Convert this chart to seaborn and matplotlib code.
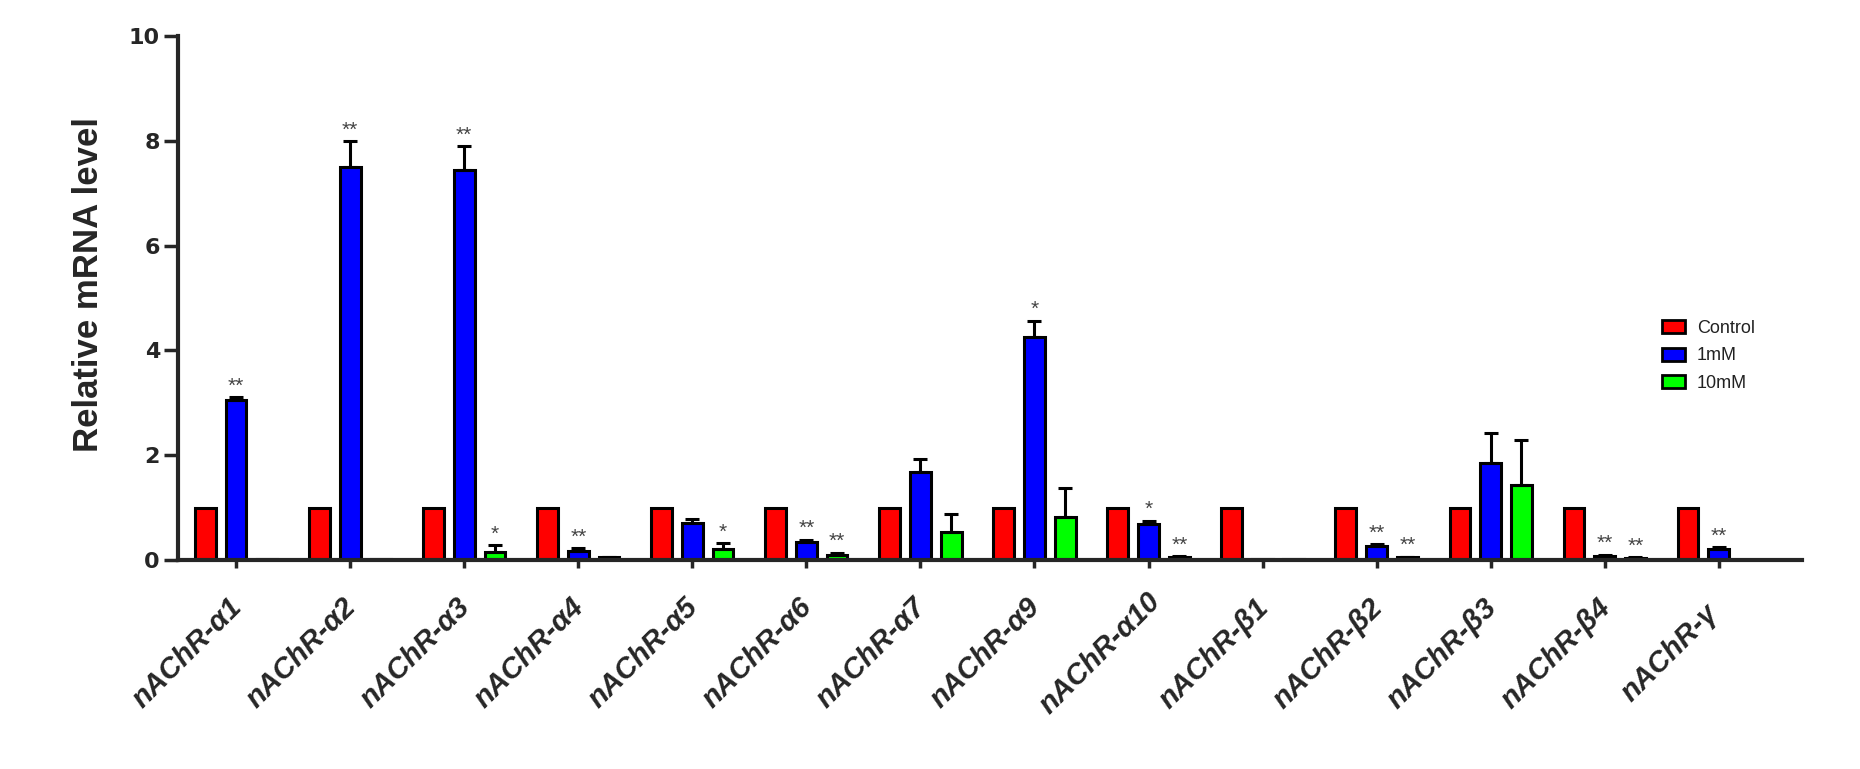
import numpy as np
import pandas as pd
import seaborn as sns
import matplotlib.pyplot as plt
import matplotlib.transforms as mtransforms
from matplotlib.patches import Patch

sns.set_style("ticks")
plt.rcParams['font.family'] = ['Liberation Sans', 'DejaVu Sans']

genes = ["nAChR-α1", "nAChR-α2", "nAChR-α3", "nAChR-α4", "nAChR-α5", "nAChR-α6",
         "nAChR-α7", "nAChR-α9", "nAChR-α10", "nAChR-β1", "nAChR-β2", "nAChR-β3",
         "nAChR-β4", "nAChR-γ"]
groups = ["Control", "1mM", "10mM"]

control = [1, 1, 1, 1, 1, 1, 1, 1, 1, 1, 1, 1, 1, 1]
mm1 = [3.06, 7.51, 7.45, 0.18, 0.71, 0.35, 1.68, 4.25, 0.68, 0.01, 0.26, 1.86, 0.08, 0.21]
mm10 = [0.02, 0.02, 0.16, 0.05, 0.21, 0.09, 0.53, 0.83, 0.05, 0.01, 0.05, 1.43, 0.04, np.nan]

mm1_sd = [0.05, 0.48, 0.45, 0.05, 0.08, 0.04, 0.24, 0.32, 0.07, 0.0, 0.04, 0.57, 0.02, 0.03]
mm10_sd = [0.0, 0.0, 0.12, 0.01, 0.11, 0.05, 0.35, 0.54, 0.02, 0.0, 0.01, 0.86, 0.01, 0.0]

mm1_sig = ["**", "**", "**", "**", "", "**", "", "*", "*", "", "**", "", "**", "**"]
mm10_sig = ["", "", "*", "", "*", "**", "", "", "**", "", "**", "", "**", ""]

colors = ["#FF0000", "#0000FF", "#00FF00"]

df = pd.DataFrame({
    "gene": genes * 3,
    "group": ["Control"] * 14 + ["1mM"] * 14 + ["10mM"] * 14,
    "value": control + mm1 + mm10,
})

fig = plt.figure(figsize=(18.6, 7.69), dpi=100)
ax = fig.add_axes([0.0957, 0.2718, 0.8731, 0.6812])

sns.barplot(data=df, x="gene", y="value", hue="group", hue_order=groups,
            palette=colors, saturation=1, width=0.81, gap=0.33, errorbar=None,
            edgecolor="black", linewidth=2.2, legend=False, ax=ax)

# error bars (upper only) + significance stars
for cont, sd, sig in [(ax.containers[1], mm1_sd, mm1_sig), (ax.containers[2], mm10_sd, mm10_sig)]:
    for bar, s, star in zip(cont, sd, sig):
        h = bar.get_height()
        if np.isnan(h):
            continue
        xc = bar.get_x() + bar.get_width() / 2
        if s > 0:
            ax.errorbar(xc, h, yerr=[[0], [s]], fmt="none", ecolor="black",
                        elinewidth=2.2, capsize=5, capthick=2.2, zorder=1)
        if star:
            ax.text(xc, h + s + 0.03, star, ha="center", va="bottom",
                    fontsize=15, color="#444444")

ax.set_ylim(0, 10)
ax.set_xlim(-0.51, 13.73)
ax.set_yticks([0, 2, 4, 6, 8, 10])
ax.set_xlabel("")
ax.set_ylabel("Relative mRNA level", fontsize=25, fontweight="bold")
ax.yaxis.set_label_coords(-0.045, 0.525)

ax.tick_params(axis="x", length=6, width=2.5, pad=0)
ax.tick_params(axis="y", length=10, width=2.5, pad=3)

ax.set_yticklabels(["0", "2", "4", "6", "8", "10"], fontsize=16, fontweight="heavy",
                   family="DejaVu Sans")
ax.set_xticks(range(len(genes)))
ax.set_xticklabels(genes, rotation=45, ha="center", va="center", rotation_mode="anchor",
                   fontsize=21, fontweight="bold", fontstyle="italic")
# labels sit below-left of their ticks, as in the original
shift = mtransforms.ScaledTranslation(-0.49, -0.85, fig.dpi_scale_trans)
for lab in ax.get_xticklabels():
    lab.set_transform(lab.get_transform() + shift)

sns.despine(ax=ax)
ax.spines["left"].set_linewidth(3)
ax.spines["bottom"].set_linewidth(3)

handles = [Patch(facecolor=c, edgecolor="black", linewidth=2) for c in colors]
ax.legend(handles, groups, loc="upper left", bbox_to_anchor=(0.9138, 0.459),
          frameon=False, fontsize=13, handlelength=1.27, handleheight=0.72,
          labelspacing=0.6, handletextpad=0.67, borderpad=0, borderaxespad=0,
          labelcolor="#222222")

fig.savefig("out.png", dpi=100)
